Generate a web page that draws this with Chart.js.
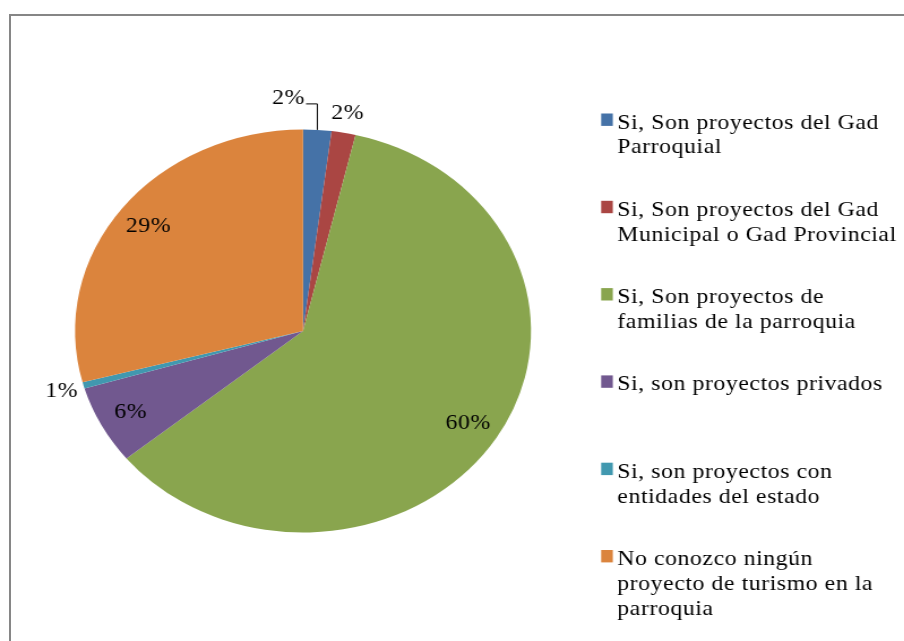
<!DOCTYPE html>
<html>
<head>
<meta charset="utf-8">
<script src="https://cdn.jsdelivr.net/npm/chart.js@4/dist/chart.umd.min.js"></script>
<style>
  html, body { margin: 0; padding: 0; background: #fff; overflow: hidden; }
  body { width: 904px; height: 641px; position: relative; }
  /* the source picture is stretched sideways, so the chart is drawn narrow and widened */
  #wrap { position: absolute; left: 0; top: 0; width: 799px; height: 641px;
          transform: scaleX(1.1315); transform-origin: 0 0; }
  #frame { position: absolute; left: 9px; top: 14px; width: 1000px; height: 1000px;
           border: 2px solid #868686; pointer-events: none; }
</style>
</head>
<body>
<div id="wrap"><canvas id="pieChart"></canvas></div>
<div id="frame"></div>
<script>
// categorias (una linea por renglon de la leyenda)
const categories = [
    ["Si, Son proyectos del Gad", "Parroquial"],
    ["Si, Son proyectos del Gad", "Municipal o Gad Provincial"],
    ["Si, Son proyectos de", "familias de la parroquia"],
    ["Si, son proyectos privados"],
    ["Si, son proyectos con", "entidades del estado"],
    ["No conozco ningún", "proyecto de turismo en la", "parroquia"],
];
// porcentaje de respuestas
const shares = [2.0, 1.7, 60.4, 6.3, 0.5, 29.1];
const sliceColors = ["#4572A7", "#AA4643", "#89A54E", "#71588F", "#4198AF", "#DB843D"];
// donde va cada etiqueta de porcentaje
const labelPlacement = ["leader", "outside", "inside", "inside", "outside", "inside"];

const FONT = '21px "Liberation Serif", "Times New Roman", serif';

// etiquetas de porcentaje sobre cada sector
const pieLabels = {
    id: "pieLabels",
    afterDatasetsDraw(chart) {
        const ctx = chart.ctx;
        const meta = chart.getDatasetMeta(0);
        ctx.save();
        ctx.font = FONT;
        ctx.letterSpacing = "0.5px";
        ctx.fillStyle = "#000";
        ctx.strokeStyle = "#000";
        ctx.lineWidth = 1;
        ctx.textBaseline = "middle";
        meta.data.forEach((arc, i) => {
            const p = arc.getProps(["x", "y", "startAngle", "endAngle", "outerRadius"], true);
            const mid = (p.startAngle + p.endAngle) / 2;
            const text = Math.round(shares[i]) + "%";
            if (labelPlacement[i] === "leader") {
                const ex = p.x + Math.cos(mid) * p.outerRadius;
                const ey = p.y + Math.sin(mid) * p.outerRadius;
                const ky = ey - 26;
                ctx.beginPath();
                ctx.moveTo(ex - 10, ky);
                ctx.lineTo(ex, ky);
                ctx.lineTo(ex, ey);
                ctx.stroke();
                ctx.textAlign = "right";
                ctx.fillText(text, ex - 11, ky - 5);
            } else {
                const f = labelPlacement[i] === "inside" ? 0.855 : 1.1;
                ctx.textAlign = "center";
                ctx.fillText(text,
                    p.x + Math.cos(mid) * p.outerRadius * f,
                    p.y + Math.sin(mid) * p.outerRadius * f + 1);
            }
        });
        ctx.restore();
    },
};

// leyenda a la derecha, entradas a igual distancia
const sideLegend = {
    id: "sideLegend",
    afterDraw(chart) {
        const ctx = chart.ctx;
        const left = chart.chartArea.right + 62;
        ctx.save();
        ctx.font = FONT;
        ctx.letterSpacing = "0.5px";
        ctx.textAlign = "left";
        ctx.textBaseline = "alphabetic";
        categories.forEach((lines, i) => {
            const base = 128.5 + i * 87.3;
            ctx.fillStyle = sliceColors[i];
            ctx.fillRect(left, base - 15, 10.3, 12.4);
            ctx.fillStyle = "#000";
            lines.forEach((line, j) => {
                ctx.fillText(line, left + 14.3, base + j * 24.8);
            });
        });
        ctx.restore();
    },
};

const ctx = document.getElementById("pieChart").getContext("2d");
const pieChart = new Chart(ctx, {
    type: "pie",
    data: {
        labels: categories,
        datasets: [{
            data: shares,
            backgroundColor: sliceColors,
            borderWidth: 0,
        }],
    },
    options: {
        responsive: true,
        maintainAspectRatio: false,
        animation: false,
        layout: { padding: { left: 66.3, top: 129.5, right: 329.7, bottom: 108.5 } },
        plugins: {
            legend: { display: false },
            tooltip: { enabled: false },
        },
    },
    plugins: [pieLabels, sideLegend],
});
</script>
</body>
</html>
